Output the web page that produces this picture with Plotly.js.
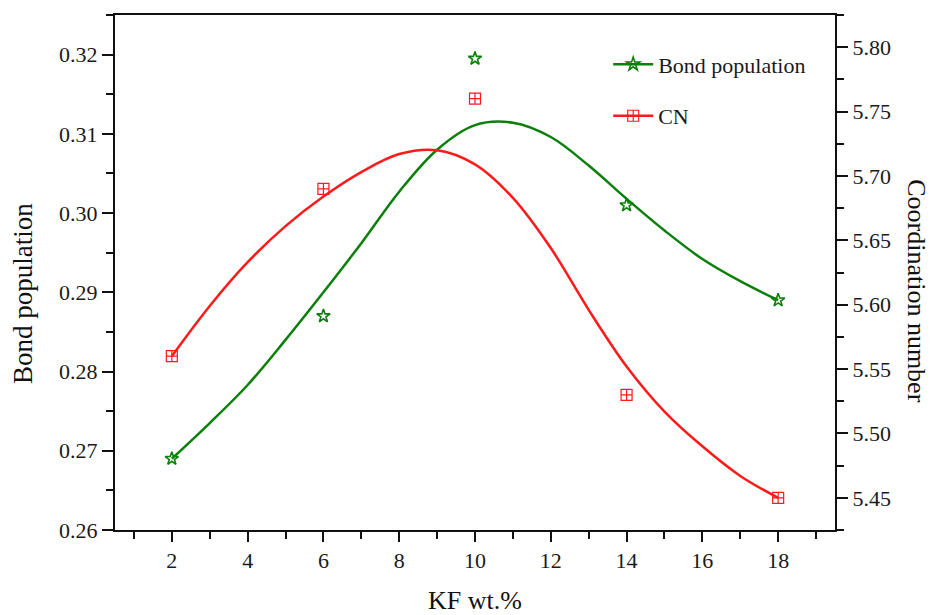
<!DOCTYPE html>
<html>
<head>
<meta charset="utf-8">
<script src="https://cdn.plot.ly/plotly-3.0.1.min.js"></script>
<style>html,body{margin:0;padding:0;background:#fff;}#chart{width:933px;height:615px;}</style>
</head>
<body>
<div id="chart"></div>
<script>
// Measured data points
const kfWt = [2, 6, 10, 14, 18];
const bondPopulation = [0.269, 0.287, 0.3195, 0.301, 0.289];
const coordNumber = [5.56, 5.69, 5.76, 5.53, 5.45];

// Smoothed fit curves
const fitX = [2, 3, 4, 5, 6, 7, 8, 9, 10, 11, 12, 13, 14, 15, 16, 17, 18];
const bondFitY = [0.2690, 0.2735, 0.2783, 0.2840, 0.2900, 0.2962, 0.3027, 0.3080, 0.3111, 0.3114, 0.3096, 0.3060, 0.3018, 0.2978, 0.2942, 0.2914, 0.2890];
const cnFitY = [5.560, 5.599, 5.633, 5.661, 5.684, 5.703, 5.717, 5.720, 5.709, 5.683, 5.644, 5.596, 5.552, 5.517, 5.490, 5.467, 5.450];

const seriesNames = ['Bond population', 'CN'];
const xTitle = 'KF wt.%';
const yTitle = 'Bond population';
const y2Title = 'Coordination number';

const GREEN = '#0a7f0a';
const RED = '#ff1a1a';
const FONT = '"Liberation Serif", "Times New Roman", serif';
const TXT = '#1a1a1a';

const traces = [
  {x: fitX, y: bondFitY, mode: 'lines', line: {color: GREEN, width: 2.5, shape: 'spline', smoothing: 1}, showlegend: false, hoverinfo: 'skip', yaxis: 'y'},
  {x: fitX, y: cnFitY, mode: 'lines', line: {color: RED, width: 2.5, shape: 'spline', smoothing: 1}, showlegend: false, hoverinfo: 'skip', yaxis: 'y2'},
  {x: kfWt, y: bondPopulation, mode: 'markers', marker: {symbol: 'star-open', size: 10, color: GREEN, line: {color: GREEN, width: 1.6}}, showlegend: false, yaxis: 'y'},
  {x: kfWt, y: coordNumber, mode: 'markers', marker: {symbol: 'square-cross-open', size: 11, color: RED, line: {color: RED, width: 1.2}}, showlegend: false, yaxis: 'y2'},
  // legend entries
  {x: [null], y: [null], name: seriesNames[0], legendgroup: 'a', mode: 'lines+markers', line: {color: GREEN, width: 2.5}, marker: {symbol: 'star-open', size: 10, color: GREEN, line: {color: GREEN, width: 1.6}}, yaxis: 'y'},
  {x: [null], y: [null], name: seriesNames[1], legendgroup: 'b', mode: 'lines+markers', line: {color: RED, width: 2.5}, marker: {symbol: 'square-cross-open', size: 11, color: RED, line: {color: RED, width: 1.2}}, yaxis: 'y2'}
];

const layout = {
  width: 933, height: 615,
  margin: {l: 115, r: 98, t: 15, b: 85},
  paper_bgcolor: '#ffffff', plot_bgcolor: '#ffffff',
  font: {family: FONT, size: 22, color: TXT},
  showlegend: true,
  legend: {x: 0.685, xanchor: 'left', y: 0.945, yanchor: 'top', itemwidth: 40, bgcolor: 'rgba(0,0,0,0)', font: {family: FONT, size: 22, color: TXT}, tracegroupgap: 20, traceorder: 'grouped'},
  xaxis: {
    range: [0.5, 19.5], tick0: 0, dtick: 2, ticks: 'outside', ticklen: 10, tickwidth: 2, tickcolor: '#111',
    showline: true, linecolor: '#111', linewidth: 2, mirror: true, showgrid: false, zeroline: false,
    minor: {dtick: 1, ticks: 'outside', ticklen: 7, tickwidth: 2, tickcolor: '#111', showgrid: false},
    tickfont: {family: FONT, size: 22, color: TXT},
    title: {text: xTitle, font: {family: FONT, size: 26, color: '#111'}, standoff: 26}
  },
  yaxis: {
    range: [0.26, 0.325], tick0: 0, dtick: 0.01, tickformat: '.2f', ticks: 'outside', ticklen: 11, tickwidth: 2, tickcolor: '#111',
    showline: true, linecolor: '#111', linewidth: 2, showgrid: false, zeroline: false,
    minor: {dtick: 0.005, ticks: 'outside', ticklen: 7, tickwidth: 2, tickcolor: '#111', showgrid: false},
    tickfont: {family: FONT, size: 22, color: TXT}
  },
  yaxis2: {
    overlaying: 'y', side: 'right', range: [5.425, 5.825], tick0: 0, dtick: 0.05, tickformat: '.2f', ticks: 'outside', ticklen: 11, tickwidth: 2, tickcolor: '#111',
    showline: true, linecolor: '#111', linewidth: 2, showgrid: false, zeroline: false,
    minor: {dtick: 0.025, ticks: 'outside', ticklen: 7, tickwidth: 2, tickcolor: '#111', showgrid: false},
    tickfont: {family: FONT, size: 22, color: TXT}
  },
  annotations: [
    {text: yTitle, xref: 'paper', yref: 'paper', x: -0.128, y: 0.46, xanchor: 'center', yanchor: 'middle', textangle: -90, showarrow: false, borderpad: 0, font: {family: FONT, size: 27, color: '#111'}},
    {text: y2Title, xref: 'paper', yref: 'paper', x: 1.113, y: 0.465, xanchor: 'center', yanchor: 'middle', textangle: 90, showarrow: false, borderpad: 0, font: {family: FONT, size: 26, color: '#111'}}
  ]
};

Plotly.newPlot('chart', traces, layout, {displayModeBar: false, staticPlot: true});
</script>
</body>
</html>
